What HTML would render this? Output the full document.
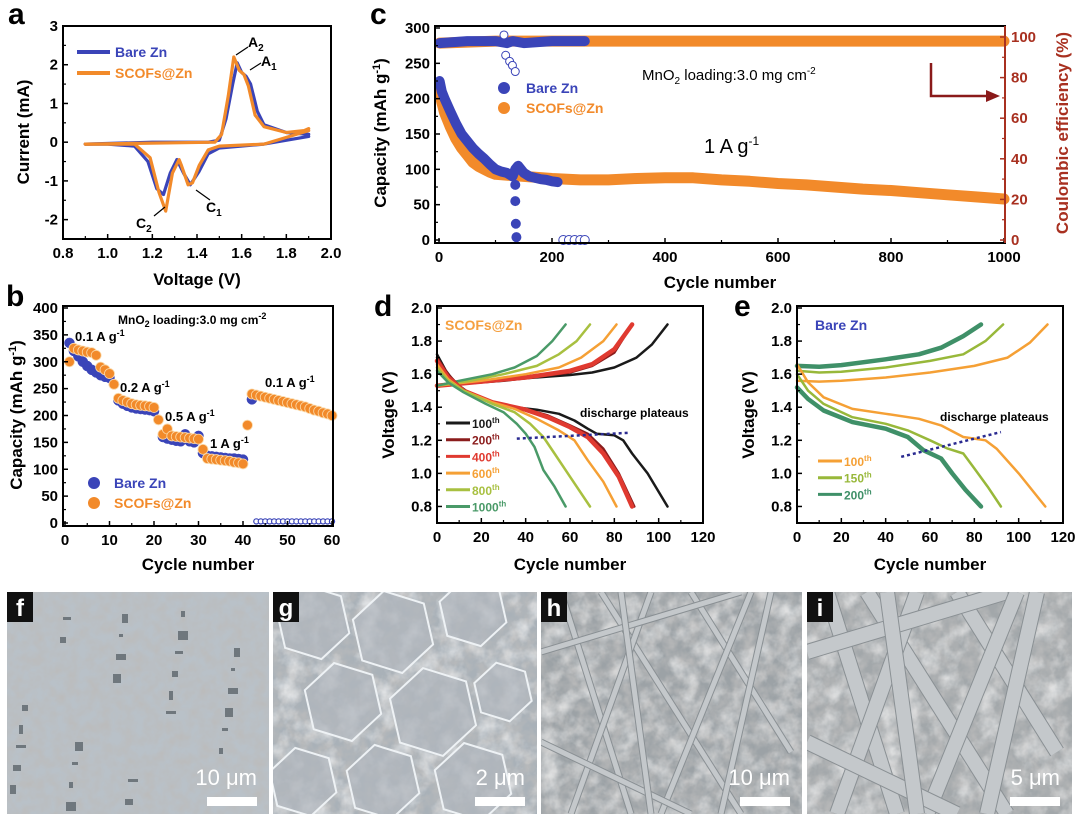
<!DOCTYPE html>
<html><head><meta charset="utf-8"><style>
html,body{margin:0;padding:0;background:#fff}
svg{display:block}
text{font-family:"Liberation Sans",Arial,sans-serif;font-weight:bold}
</style></head><body>
<svg id="fig" width="1080" height="814" viewBox="0 0 1080 814" xmlns="http://www.w3.org/2000/svg">
<defs>
<clipPath id="cf"><rect x="7" y="592" width="262" height="222"/></clipPath>
<clipPath id="cg"><rect x="273" y="592" width="264" height="222"/></clipPath>
<clipPath id="ch"><rect x="541" y="592" width="261" height="222"/></clipPath>
<clipPath id="ci"><rect x="807" y="592" width="265" height="222"/></clipPath>
<filter id="grain" x="0" y="0" width="100%" height="100%">
<feTurbulence type="fractalNoise" baseFrequency="0.09" numOctaves="3" seed="4"/>
<feColorMatrix type="matrix" values="0 0 0 0 0.5  0 0 0 0 0.5  0 0 0 0 0.5  1.6 0 0 0 -0.45"/>
</filter>
<filter id="grain2" x="0" y="0" width="100%" height="100%">
<feTurbulence type="fractalNoise" baseFrequency="0.05" numOctaves="4" seed="9"/>
<feColorMatrix type="matrix" values="0 0 0 0 1  0 0 0 0 1  0 0 0 0 1  2.2 0 0 0 -0.9"/>
</filter>
</defs>
<g id="layer"></g>
<text x="8" y="24" font-size="30">a</text>
<text x="6" y="306" font-size="30">b</text>
<text x="370" y="24" font-size="30">c</text>
<text x="374" y="316" font-size="30">d</text>
<text x="734" y="316" font-size="30">e</text>

<text transform="translate(29,132) rotate(-90)" text-anchor="middle" font-size="17">Current (mA)</text>
<text x="197" y="285" text-anchor="middle" font-size="17">Voltage (V)</text>
<line x1="77" y1="52" x2="110" y2="52" stroke="#3a44b8" stroke-width="4"/>
<text x="115" y="57" font-size="14" fill="#3a44b8">Bare Zn</text>
<line x1="77" y1="73" x2="110" y2="73" stroke="#f28a2a" stroke-width="4"/>
<text x="115" y="78" font-size="14" fill="#f28a2a">SCOFs@Zn</text>
<text x="248" y="47" font-size="14">A<tspan font-size="10" dy="4">2</tspan></text>
<text x="261" y="66" font-size="14">A<tspan font-size="10" dy="4">1</tspan></text>
<text x="206" y="212" font-size="14">C<tspan font-size="10" dy="4">1</tspan></text>
<text x="136" y="228" font-size="14">C<tspan font-size="10" dy="4">2</tspan></text>
<path d="M248,47 L236,55 M261,63 L250,70 M210,200 L196,190 M154,216 L165,207" stroke="#000" stroke-width="1.2" fill="none"/>

<text transform="translate(22,415) rotate(-90)" text-anchor="middle" font-size="17">Capacity (mAh g<tspan font-size="11" dy="-6">-1</tspan><tspan dy="6">)</tspan></text>
<text x="198" y="570" text-anchor="middle" font-size="17">Cycle number</text>
<text x="118" y="324" font-size="12">MnO<tspan font-size="9" dy="3">2</tspan><tspan dy="-3"> loading:3.0 mg cm</tspan><tspan font-size="9" dy="-5">-2</tspan></text>
<text x="75" y="341" font-size="13">0.1 A g<tspan font-size="9" dy="-5">-1</tspan></text>
<text x="120" y="392" font-size="13">0.2 A g<tspan font-size="9" dy="-5">-1</tspan></text>
<text x="165" y="421" font-size="13">0.5 A g<tspan font-size="9" dy="-5">-1</tspan></text>
<text x="210" y="448" font-size="13">1 A g<tspan font-size="9" dy="-5">-1</tspan></text>
<text x="265" y="387" font-size="13">0.1 A g<tspan font-size="9" dy="-5">-1</tspan></text>
<circle cx="94" cy="483" r="6" fill="#3a44b8"/>
<text x="114" y="488" font-size="14" fill="#3a44b8">Bare Zn</text>
<circle cx="94" cy="503" r="6" fill="#f28a2a"/>
<text x="114" y="508" font-size="14" fill="#f28a2a">SCOFs@Zn</text>

<text transform="translate(386,133) rotate(-90)" text-anchor="middle" font-size="17">Capacity (mAh g<tspan font-size="11" dy="-6">-1</tspan><tspan dy="6">)</tspan></text>
<text transform="translate(1068,133) rotate(-90)" text-anchor="middle" font-size="17" fill="#a83020">Coulombic efficiency (%)</text>
<text x="720" y="288" text-anchor="middle" font-size="17">Cycle number</text>
<text x="642" y="80" font-size="15" style="font-weight:normal">MnO<tspan font-size="10" dy="4">2</tspan><tspan dy="-4"> loading:3.0 mg cm</tspan><tspan font-size="10" dy="-6">-2</tspan></text>
<text x="704" y="153" font-size="20" style="font-weight:normal">1 A g<tspan font-size="12" dy="-8">-1</tspan></text>
<circle cx="504" cy="88" r="6" fill="#3a44b8"/>
<text x="526" y="93" font-size="14" fill="#3a44b8">Bare Zn</text>
<circle cx="504" cy="108" r="6" fill="#f28a2a"/>
<text x="526" y="113" font-size="14" fill="#f28a2a">SCOFs@Zn</text>
<path d="M931,63 L931,96 L988,96" stroke="#8a1a1a" stroke-width="2.5" fill="none"/>
<polygon points="986,90 1000,96 986,102" fill="#8a1a1a"/>

<text transform="translate(394,415) rotate(-90)" text-anchor="middle" font-size="17">Voltage (V)</text>
<text x="570" y="570" text-anchor="middle" font-size="17">Cycle number</text>
<text x="445" y="330" font-size="14" fill="#f5a040">SCOFs@Zn</text>
<text x="580" y="417" font-size="12">discharge plateaus</text>
<text transform="translate(754,415) rotate(-90)" text-anchor="middle" font-size="17">Voltage (V)</text>
<text x="930" y="570" text-anchor="middle" font-size="17">Cycle number</text>
<text x="815" y="330" font-size="14" fill="#3a44b8">Bare Zn</text>
<text x="940" y="421" font-size="12">discharge plateaus</text>
</svg>
<script>
const aBareCath=[[1.9,0.15],[1.7,-0.05],[1.5,-0.15],[1.45,-0.3],[1.41,-0.75],[1.37,-1.1],[1.34,-0.8],[1.31,-0.45],[1.28,-0.8],[1.25,-1.35],[1.22,-1.2],[1.18,-0.5],[1.12,-0.1],[1.0,-0.05],[0.9,-0.05]];
const aBareAnod=[[0.9,-0.05],[1.2,0],[1.45,0],[1.5,0.05],[1.53,0.6],[1.56,1.5],[1.58,2.05],[1.6,1.8],[1.62,1.7],[1.64,1.5],[1.67,0.8],[1.7,0.45],[1.8,0.25],[1.9,0.2]];
const aScofCath=[[1.9,0.3],[1.7,-0.05],[1.5,-0.1],[1.45,-0.2],[1.41,-0.6],[1.38,-1.05],[1.36,-1.1],[1.33,-0.6],[1.32,-0.45],[1.29,-0.8],[1.26,-1.78],[1.23,-1.3],[1.19,-0.4],[1.12,-0.05],[0.9,-0.05]];
const aScofAnod=[[0.9,-0.05],[1.48,0],[1.51,0.2],[1.54,1.2],[1.565,2.2],[1.59,1.85],[1.61,1.75],[1.63,1.45],[1.66,0.7],[1.7,0.4],[1.8,0.25],[1.88,0.3],[1.9,0.35]];
const aXTicks=["0.8","1.0","1.2","1.4","1.6","1.8","2.0"];
const aYTicks=["-2","-1","0","1","2","3"];
const bScofs=[300,325,322,320,318,317,312,290,285,278,258,232,228,225,222,220,219,218,217,215,192,165,175,162,161,160,159,158,157,156,137,120,119,118,117,116,115,113,112,110,182,240,238,236,234,232,230,228,226,224,222,220,218,216,213,210,208,205,203,200];
const bBare=[335,320,310,300,292,285,280,275,272,270,258,228,222,218,215,213,212,211,210,208,192,160,157,155,153,152,165,152,150,162,130,125,124,123,122,121,120,120,119,118,null,230,3,3,3,3,3,3,3,3,3,3,3,3,3,3,3,3,3,3];
const bXTicks=["0","10","20","30","40","50","60"];
const bYTicks=["0","50","100","150","200","250","300","350","400"];
const cBareCap=[[1,225],[5,210],[10,200],[20,182],[30,165],[40,150],[50,140],[60,130],[70,122],[80,115],[90,107],[100,100],[110,97],[120,95],[130,90],[135,100],[140,105],[145,100],[150,95],[160,90],[170,88],[180,86],[190,85],[200,83],[210,82]];
const cBareDrop=[[135,78],[135,55],[136,23],[137,4],[220,0],[230,0],[240,0],[250,0],[258,0]];
const cScofCap=[[1,210],[5,195],[10,180],[20,160],[30,143],[40,130],[50,120],[60,110],[70,104],[80,100],[90,96],[100,93],[150,90],[200,87],[250,85],[300,85],[350,87],[400,88],[450,88],[500,85],[550,83],[600,80],[650,78],[700,75],[750,72],[800,70],[850,67],[900,64],[950,61],[1000,58]];
const cBareCE=[[1,97],[50,98],[100,98],[120,97],[130,98],[150,97],[200,98],[258,98]];
const cBareCEOut=[[115,101],[118,91],[125,88],[130,86],[135,83]];
const cScofCE=[[1,97],[100,98],[300,98],[500,98],[700,98],[900,98],[1000,98]];
const cXTicks=["0","200","400","600","800","1000"];
const cYTicks=["0","50","100","150","200","250","300"];
const cY2Ticks=["0","20","40","60","80","100"];
const dNames=["100th","200th","400th","600th","800th","1000th"];
const dCharge=[
 [[0,1.53],[10,1.54],[20,1.55],[30,1.56],[40,1.575],[50,1.585],[60,1.595],[70,1.61],[80,1.64],[90,1.7],[97,1.78],[104,1.9]],
 [[0,1.53],[20,1.55],[40,1.575],[60,1.61],[70,1.65],[80,1.73],[88,1.9]],
 [[0,1.53],[20,1.555],[40,1.58],[60,1.62],[70,1.66],[80,1.75],[88,1.9]],
 [[0,1.53],[20,1.56],[40,1.6],[55,1.64],[65,1.7],[75,1.8],[81,1.9]],
 [[0,1.53],[15,1.56],[30,1.6],[45,1.65],[55,1.72],[63,1.8],[69,1.9]],
 [[0,1.53],[10,1.56],[25,1.6],[35,1.64],[45,1.71],[52,1.8],[58,1.9]]];
const dDischarge=[
 [[0,1.72],[4,1.62],[8,1.55],[15,1.48],[25,1.43],[35,1.4],[45,1.385],[55,1.36],[62,1.32],[68,1.27],[72,1.24],[80,1.23],[84,1.2],[88,1.12],[95,1.0],[104,0.8]],
 [[0,1.7],[5,1.6],[12,1.5],[25,1.43],[40,1.39],[50,1.35],[60,1.29],[68,1.24],[75,1.15],[82,1.0],[89,0.8]],
 [[0,1.68],[5,1.58],[12,1.5],[25,1.43],[40,1.385],[50,1.34],[60,1.28],[68,1.22],[75,1.12],[82,0.98],[88,0.8]],
 [[0,1.66],[5,1.57],[12,1.5],[25,1.43],[35,1.39],[45,1.33],[55,1.26],[62,1.2],[68,1.08],[75,0.95],[81,0.8]],
 [[0,1.64],[5,1.56],[12,1.5],[25,1.42],[35,1.37],[42,1.3],[48,1.22],[53,1.12],[60,0.98],[69,0.8]],
 [[0,1.62],[5,1.55],[12,1.49],[22,1.42],[30,1.37],[36,1.3],[40,1.24],[44,1.16],[48,1.02],[53,0.92],[58,0.8]]];
const dPlateau=[[36,1.21],[86,1.245]];
const eNames=["100th","150th","200th"];
const eCharge=[
 [[0,1.56],[10,1.555],[20,1.56],[40,1.58],[60,1.61],[80,1.65],[95,1.7],[105,1.79],[113,1.9]],
 [[0,1.62],[10,1.61],[20,1.615],[40,1.64],[60,1.68],[75,1.72],[85,1.8],[93,1.9]],
 [[0,1.65],[10,1.645],[20,1.655],[40,1.69],[55,1.72],[65,1.76],[75,1.83],[83,1.9]]];
const eDischarge=[
 [[0,1.66],[5,1.55],[12,1.46],[25,1.39],[40,1.36],[55,1.33],[65,1.29],[75,1.22],[85,1.2],[90,1.15],[100,1.0],[112,0.8]],
 [[0,1.6],[5,1.5],[12,1.42],[25,1.34],[40,1.3],[50,1.26],[60,1.2],[68,1.15],[75,1.12],[80,1.03],[86,0.92],[92,0.8]],
 [[0,1.52],[5,1.45],[12,1.38],[25,1.31],[40,1.27],[50,1.22],[57,1.14],[65,1.09],[70,1.0],[76,0.9],[83,0.8]]];
const ePlateau=[[47,1.1],[92,1.25]];
const vXTicks=["0","20","40","60","80","100","120"];
const vYTicks=["0.8","1.0","1.2","1.4","1.6","1.8","2.0"];

const NS="http://www.w3.org/2000/svg";
const root=document.getElementById('layer');
function mk(tag,attrs,parent){const e=document.createElementNS(NS,tag);for(const k in attrs)e.setAttribute(k,attrs[k]);(parent||root).appendChild(e);return e;}
function lin(d0,d1,r0,r1){return v=>r0+(v-d0)*(r1-r0)/(d1-d0);}
function pts(arr,X,Y){return arr.map(p=>X(p[0]).toFixed(1)+","+Y(p[1]).toFixed(1)).join(" ");}
function frame(id,x0,y0,x1,y1){
  const r=mk('rect',{x:x0,y:y0,width:x1-x0,height:y1-y0,fill:'none',stroke:'#000','stroke-width':2});
  
  
}
function xTicks(id,labels,X,yb,size,minor){
  labels.forEach((t,i)=>{const v=parseFloat(t);const x=X(v);
    const l=mk('line',{x1:x,y1:yb,x2:x,y2:yb-5,stroke:'#000','stroke-width':1.5});
    
    
    const tx=mk('text',{x:x,y:yb+19,'text-anchor':'middle','font-size':size||15});tx.textContent=t;
    
    
    if(minor&&i<labels.length-1){const xm=X((v+parseFloat(labels[i+1]))/2);
      const m=mk('line',{x1:xm,y1:yb,x2:xm,y2:yb-3,stroke:'#000','stroke-width':1.2});
      
      }
  });
}
function yTicks(id,labels,Y,xl,size,right,color){
  labels.forEach((t,i)=>{const v=parseFloat(t);const y=Y(v);
    const l=mk('line',{x1:xl,y1:y,x2:right?xl-5:xl+5,y2:y,stroke:color||'#000','stroke-width':1.5});
    
    
    const tx=mk('text',{x:right?xl+6:xl-5,y:y+5,'text-anchor':right?'start':'end','font-size':size||15,fill:color||'#000'});tx.textContent=t;
    
    
    if(i<labels.length-1){const ym=Y((v+parseFloat(labels[i+1]))/2);
      const m=mk('line',{x1:xl,y1:ym,x2:right?xl-3:xl+3,y2:ym,stroke:color||'#000','stroke-width':1.2});
      
      }
  });
}
function line(arr,X,Y,color,w,name){
  const p=mk('polyline',{points:pts(arr,X,Y),fill:'none',stroke:color,'stroke-width':w,'stroke-linejoin':'round','stroke-linecap':'round'});
  
  
  return p;
}

{const X=lin(0.8,2.0,63,331),Y=lin(3,-2.5,26,239);
 line(aBareCath,X,Y,'#3a44b8',3.2,'a-bare-cathodic-curve');
 line(aBareAnod,X,Y,'#3a44b8',3.2,'a-bare-anodic-curve');
 line(aScofCath,X,Y,'#f28a2a',3.2,'a-scofs-cathodic-curve');
 line(aScofAnod,X,Y,'#f28a2a',3.2,'a-scofs-anodic-curve');
 frame('a',63,26,331,239);xTicks('a',aXTicks,X,239,15,true);yTicks('a',aYTicks,Y,63,15);}

{const X=lin(0,60,65,332),Y=lin(0,400,523,308);
 bBare.forEach((v,i)=>{if(v===null)return;const open=v<10;
   const c=mk('circle',{cx:X(i+1),cy:Y(v),r:open?2.6:5,fill:open?'#fff':'#3a44b8',stroke:'#3a44b8','stroke-width':open?1.2:0.5});
   
   });
 bScofs.forEach((v,i)=>{const c=mk('circle',{cx:X(i+1),cy:Y(v),r:5,fill:'#f28a2a',stroke:'#fbd9a8','stroke-width':0.8});
   
   });
 frame('b',63,306,333,526);xTicks('b',bXTicks,X,526,15,true);yTicks('b',bYTicks,Y,63,15);}

{const X=lin(0,1000,439,1004),Y=lin(0,300,240,28),Y2=lin(0,100,240,37);
 line(cScofCE,X,Y2,'#f28a2a',11,'c-scofs-ce-band');
 line(cBareCE,X,Y2,'#3a44b8',10,'c-bare-ce-band');
 cBareCEOut.forEach(p=>{const c=mk('circle',{cx:X(p[0]),cy:Y2(p[1]),r:4,fill:'#fff',stroke:'#3a44b8','stroke-width':1});
   
   });
 line(cScofCap,X,Y,'#f28a2a',11,'c-scofs-capacity-band');
 line(cBareCap,X,Y,'#3a44b8',10,'c-bare-capacity-band');
 cBareDrop.forEach(p=>{const c=mk('circle',{cx:X(p[0]),cy:Y(p[1]),r:4.5,fill:p[1]>0?'#3a44b8':'#fff',stroke:'#3a44b8','stroke-width':1});
   
   });
 frame('c',435,26,1005,243);
 xTicks('c',cXTicks,X,243,15,true);yTicks('c',cYTicks,Y,435,15);yTicks('c-right',cY2Ticks,Y2,1005,15,true,'#a83020');
 const ax=mk('line',{x1:1005,y1:26,x2:1005,y2:243,stroke:'#a83020','stroke-width':2});
 
 }

function vPanel(id,x0,ch,dis,names,colors,plateau,legY,legX){
  const X=lin(0,120,x0,x0+266),Y=lin(0.7,2.0,523,308);
  ch.forEach((c,i)=>line(c,X,Y,colors[i],i===2?4.5:2.5,id+'-charge-'+names[i]));
  dis.forEach((c,i)=>line(c,X,Y,colors[i],i===2?4.5:2.5,id+'-discharge-'+names[i]));
  const pl=mk('line',{x1:X(plateau[0][0]),y1:Y(plateau[0][1]),x2:X(plateau[1][0]),y2:Y(plateau[1][1]),stroke:'#2a2a90','stroke-width':2.5,'stroke-dasharray':'3,3'});
  
  
  names.forEach((n,i)=>{const y=legY+i*16.7;
    const l=mk('line',{x1:legX,y1:y,x2:legX+24,y2:y,stroke:colors[i],'stroke-width':3});
    
    
    const t=mk('text',{x:legX+26,y:y+5,'font-size':12,fill:colors[i]});
    t.textContent=n.replace('th','');
    const s=mk('tspan',{'font-size':8,dy:-5},t);s.textContent='th';
    
    });
  frame(id,x0,306,x0+266,523);xTicks(id,vXTicks,X,523,15,true);yTicks(id,vYTicks,Y,x0,15);
}
vPanel('d',437,dCharge,dDischarge,dNames,['#1a1a1a','#8b1c1c','#e03a30','#f5a035','#a8c040','#4a9a68'],dPlateau,423,446);
vPanel('e',797,eCharge,eDischarge,eNames,['#f5a035','#98b83a','#3f9068'],ePlateau,461,818);

function sem(id,x,w,bg,label,bar,clip,kind,fw){
  const g=mk('g',{'clip-path':'url(#'+clip+')'});
  
  
  mk('rect',{x:x,y:592,width:w,height:222,fill:bg},g);
  mk('rect',{x:x,y:592,width:w,height:222,filter:'url(#grain)'},g);
  if(kind!=='flat') mk('rect',{x:x,y:592,width:w,height:222,filter:'url(#grain2)',opacity:0.6},g);
  if(kind==='hex'){const hs=[[40,30,38],[120,40,42],[200,20,35],[70,110,40],[160,120,45],[230,100,30],[30,190,35],[110,190,38],[200,190,40]];
    hs.forEach(h=>{let p=[];for(let k=0;k<6;k++){const a=Math.PI/3*k+0.3;p.push((x+h[0]+h[2]*Math.cos(a)).toFixed(1)+','+(592+h[1]+h[2]*Math.sin(a)).toFixed(1));}
      mk('polygon',{points:p.join(' '),fill:'#b0b7be','fill-opacity':0.7,stroke:'#eef2f5','stroke-width':2},g);});}
  if(kind==='fib'){const fs=[[20,0,90,222],[60,0,200,222],[110,0,30,222],[150,0,250,160],[0,60,200,0],[210,0,120,222],[0,150,150,222],[80,0,110,222],[230,0,180,222]];
    fs.forEach(f=>{mk('line',{x1:x+f[0],y1:592+f[1],x2:x+f[2],y2:592+f[3],stroke:'#8a9094','stroke-width':fw+2},g);
      mk('line',{x1:x+f[0],y1:592+f[1],x2:x+f[2],y2:592+f[3],stroke:'#c4c8cb','stroke-width':fw},g);});}
  if(kind==='flat'){for(let k=0;k<30;k++){mk('rect',{x:x+(k*53)%w,y:600+(k*37)%205,width:4+(k%4)*2,height:3+(k%3)*3,fill:'#6f777d'},g);}}
  mk('rect',{x:x,y:592,width:26,height:30,fill:'#111'},g);
  const t=mk('text',{x:x+13,y:616,'text-anchor':'middle','font-size':24,fill:'#fff'},g);t.textContent=label;
  const bt=mk('text',{x:x+w-12,y:785,'text-anchor':'end','font-size':22,fill:'#fff',style:'font-weight:normal'},g);bt.textContent=bar;
  mk('rect',{x:x+w-62,y:797,width:50,height:9,fill:'#fff'},g);
}
sem('f',7,262,'#b9c1c8','f','10 μm','cf','flat',0);
sem('g',273,264,'#a9b1b8','g','2 μm','cg','hex',0);
sem('h',541,261,'#9ca2a6','h','10 μm','ch','fib',5);
sem('i',807,265,'#a2a7aa','i','5 μm','ci','fib',14);
</script>
</body></html>
